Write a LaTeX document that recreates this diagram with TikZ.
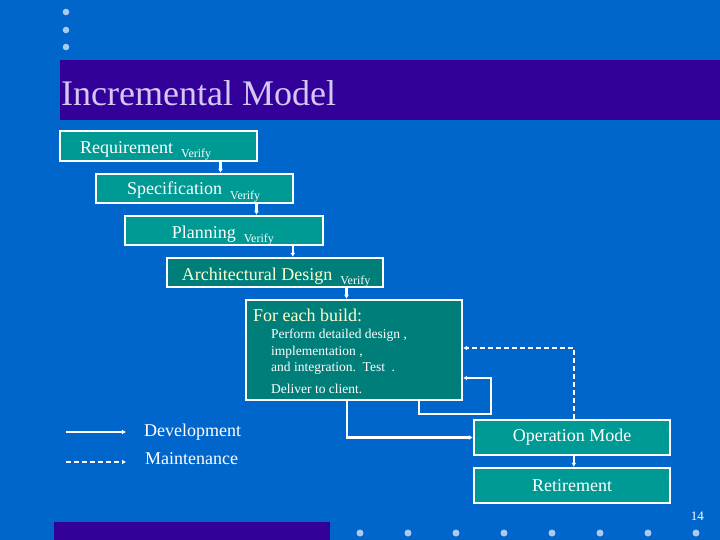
\documentclass[tikz,border=0pt]{standalone}
\usepackage{fontspec}
\setmainfont{Liberation Serif}
\usetikzlibrary{arrows.meta}

\definecolor{fondo}{HTML}{0066CC}
\definecolor{barra}{HTML}{330099}
\definecolor{tituloc}{HTML}{D4C8F4}
\definecolor{tealA}{HTML}{009A94}
\definecolor{tealB}{HTML}{007F7A}
\definecolor{amarillo}{HTML}{FFFFCC}
\definecolor{punto}{HTML}{A8CCEE}

\newcommand{\verifica}{\hspace{8pt}\raisebox{-4.5pt}{\color{white}\fontsize{12}{14}\selectfont Verify}}

\begin{document}
\begin{tikzpicture}[
        x=1pt, y=-1pt,
        fase/.style={
            draw=white,
            fill=tealA,
            line width=2.4pt,
            inner sep=0pt,
            text=white,
            font=\fontsize{18}{22}\selectfont
        },
        texto/.style={
            text=white,
            inner sep=0pt,
            font=\fontsize{18}{22}\selectfont
        },
        flecha/.style={
            draw=white,
            line width=2.3pt,
            -{Latex[length=4pt,width=5pt]}
        },
        punteada/.style={dash pattern=on 5pt off 3pt}
    ]

    % Fondo
    \useasboundingbox (0,0) rectangle (720,540);
    \fill[fondo] (0,0) rectangle (720,540);
    \fill[barra] (60,60) rectangle (720,120);
    \fill[barra] (54,522) rectangle (330,540);
    \foreach \y in {12,30,47}
        \fill[punto] (66,\y) circle (3.3);
    \foreach \x in {360,408,456,504,552,600,648,696}
        \fill[punto] (\x,533) circle (3.5);

    \node[anchor=base west, inner sep=0pt, text=tituloc,
          font=\fontsize{36}{40}\selectfont] (titulo) at (61,106) {Incremental Model};
    \node[anchor=base east, inner sep=0pt, text=white,
          font=\fontsize{13}{15}\selectfont] (pagina) at (704,520) {14};

    % Fases
    \node[fase, minimum width=197pt, minimum height=30pt] (req)   at (158.5,146)   {};
    \node[fase, minimum width=197pt, minimum height=29pt] (spec)  at (194.5,188.5) {};
    \node[fase, minimum width=198pt, minimum height=29pt] (plan)  at (224,230.5)   {};
    \node[fase, fill=tealB, minimum width=216pt, minimum height=29pt] (arch) at (275,272.5) {};
    \node[fase, fill=tealB, minimum width=216pt, minimum height=100pt] (build) at (354,350) {};
    \node[fase, minimum width=196pt, minimum height=35pt] (op)    at (572,437.5) {Operation Mode};
    \node[fase, minimum width=196pt, minimum height=35pt] (ret)   at (572,485.5) {Retirement};

    % Textos
    \node[texto, anchor=base west] (reqtxt)  at (80,153.3)  {Requirement\verifica};
    \node[texto, anchor=base west] (spectxt) at (127,195)   {Specification\verifica};
    \node[texto, anchor=base west] (plantxt) at (171.7,238) {Planning\verifica};
    \node[texto, anchor=base west, text=amarillo] (archtxt) at (181.7,280) {Architectural Design\verifica};
    \node[texto, anchor=base west, text=amarillo] (buildtxt) at (253,321.7) {For each build:};
    \node[texto, anchor=north west, align=left,
          font=\fontsize{13.5}{16.5}\selectfont] (buildpasos) at (271,328.8)
        {Perform detailed design ,\\implementation ,\\and integration.\ \ Test\ \ .\\[5pt]Deliver to client.};

    % Flechas
    \draw[flecha] ([xshift=161.7pt]req.south west)  -- ([xshift=125.7pt]spec.north west);
    \draw[flecha] ([xshift=161.7pt]spec.south west) -- ([xshift=132.7pt]plan.north west);
    \draw[flecha] ([xshift=169pt]plan.south west)   -- ([xshift=127pt]arch.north west);
    \draw[flecha] ([xshift=180.7pt]arch.south west) -- ([xshift=101.7pt]build.north west);
    \draw[flecha] ([xshift=102pt]build.south west) |- (op.west);
    \draw[flecha] ([xshift=174pt]build.south west) -- ++(0,13) -- ++(72,0) |- ([yshift=-28pt]build.east);
    \draw[flecha, punteada] ([xshift=101pt]op.north west) |- ([yshift=2pt]build.east);
    \draw[flecha] ([xshift=101pt]op.south west) -- ([xshift=101pt]ret.north west);

    % Leyenda
    \coordinate (desA) at (66,432);
    \coordinate (desB) at (126,432);
    \coordinate (manA) at (66,462);
    \coordinate (manB) at (126,462);
    \draw[flecha] (desA) -- (desB);
    \draw[flecha, punteada] (manA) -- (manB);
    \node[texto, anchor=base west] (destxt) at (144,436.7) {Development};
    \node[texto, anchor=base west] (mantxt) at (145,464.3) {Maintenance};

    \end{tikzpicture}
\end{document}
